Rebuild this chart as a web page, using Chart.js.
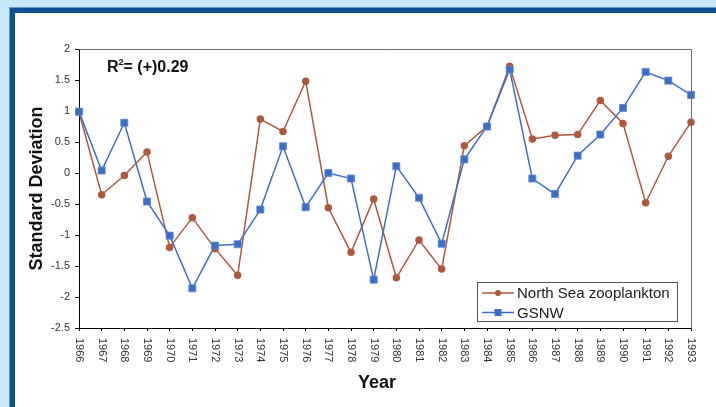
<!DOCTYPE html>
<html>
<head>
<meta charset="utf-8">
<script src="https://cdn.jsdelivr.net/npm/chart.js@4/dist/chart.umd.min.js"></script>
<style>
  html, body { margin: 0; padding: 0; }
  body { width: 716px; height: 407px; background: #c7e8f8; position: relative; overflow: hidden; }
  #frame {
    position: absolute; left: 10px; top: 8px; width: 720px; height: 420px;
    background: #ffffff;
    border-left: 5px solid #0c4f92; border-top: 5px solid #0c4f92;
    box-shadow: -1px -1px 0 #5d9fd3;
  }
  #wrap { position: absolute; left: 0; top: 0; width: 716px; height: 407px; }
</style>
</head>
<body>
<div id="frame"></div>
<div id="wrap"><canvas id="chart" width="716" height="407"></canvas></div>
<script>
// Years on the horizontal axis
const years = ['1966','1967','1968','1969','1970','1971','1972','1973','1974','1975',
  '1976','1977','1978','1979','1980','1981','1982','1983','1984','1985',
  '1986','1987','1988','1989','1990','1991','1992','1993'];

// Standardised anomalies (standard deviations)
const northSeaZooplankton = [0.98, -0.35, -0.04, 0.34, -1.20, -0.72, -1.22, -1.65, 0.87, 0.67,
  1.48, -0.56, -1.28, -0.42, -1.69, -1.08, -1.55, 0.44, 0.75, 1.72,
  0.55, 0.61, 0.62, 1.17, 0.80, -0.48, 0.27, 0.82];
const gsnw = [0.99, 0.04, 0.81, -0.46, -1.01, -1.86, -1.17, -1.15, -0.59, 0.43,
  -0.55, 0.00, -0.09, -1.72, 0.11, -0.40, -1.14, 0.22, 0.75, 1.67,
  -0.09, -0.34, 0.28, 0.62, 1.05, 1.63, 1.49, 1.26];

// Value-axis tick labels
const yTickLabels = ['-2.5', '-2', '-1.5', '-1', '-0.5', '0', '0.5', '1', '1.5', '2'];

const seriesNames = ['North Sea zooplankton', 'GSNW'];
const correlationText = { base: 'R', sup: '2', rest: '= (+)0.29' };
const xTitle = 'Year';

const FONT = '"Liberation Sans", Arial, Helvetica, sans-serif';
const BROWN = '#ae583d';
const BLUE = '#3d6ec6';

Chart.defaults.font.family = FONT;

// Draws the plot frame, rotated year labels, x title, R² note and the inset legend
const decorations = {
  id: 'decorations',
  afterDraw(chart) {
    const ctx = chart.ctx;
    const a = chart.chartArea;
    const xs = chart.scales.x;
    ctx.save();

    // plot frame (top and right edges)
    ctx.strokeStyle = '#6b6b6b';
    ctx.lineWidth = 1;
    ctx.beginPath();
    ctx.moveTo(Math.round(a.left) + 0.5, Math.round(a.top) + 0.5);
    ctx.lineTo(Math.round(a.right) + 0.5, Math.round(a.top) + 0.5);
    ctx.lineTo(Math.round(a.right) + 0.5, Math.round(a.bottom) + 0.5);
    ctx.stroke();

    // year labels, reading downward
    ctx.fillStyle = '#333333';
    ctx.font = '11px ' + FONT;
    ctx.textAlign = 'left';
    ctx.textBaseline = 'middle';
    xs.ticks.forEach((t, i) => {
      const x = xs.getPixelForTick(i);
      ctx.save();
      ctx.translate(x, a.bottom + 10);
      ctx.rotate(Math.PI / 2);
      ctx.fillText(xs.getLabelForValue(t.value), 0, 0);
      ctx.restore();
    });

    // x title
    ctx.fillStyle = '#111111';
    ctx.font = 'bold 18px ' + FONT;
    ctx.textAlign = 'center';
    ctx.fillText(xTitle, 377, 383);

    // R² note
    ctx.textAlign = 'left';
    ctx.font = 'bold 16px ' + FONT;
    let x0 = 107;
    const y0 = 68;
    ctx.fillText(correlationText.base, x0, y0);
    x0 += ctx.measureText(correlationText.base).width;
    ctx.font = 'bold 9px ' + FONT;
    ctx.fillText(correlationText.sup, x0, y0 - 5);
    x0 += ctx.measureText(correlationText.sup).width;
    ctx.font = 'bold 16px ' + FONT;
    ctx.fillText(correlationText.rest, x0, y0);

    // inset legend
    const lx = 477.5, ly = 282.5, lw = 200, lh = 39;
    ctx.fillStyle = '#ffffff';
    ctx.fillRect(lx, ly, lw, lh);
    ctx.strokeStyle = '#555555';
    ctx.strokeRect(lx, ly, lw, lh);
    ctx.font = '15px ' + FONT;
    chart.data.datasets.forEach((ds, i) => {
      const yy = 293 + i * 19.5;
      ctx.strokeStyle = ds.borderColor;
      ctx.lineWidth = 1.5;
      ctx.beginPath();
      ctx.moveTo(482, yy);
      ctx.lineTo(514, yy);
      ctx.stroke();
      ctx.fillStyle = ds.pointBackgroundColor;
      if (ds.pointStyle === 'rect') {
        const s = ds.pointRadius * Math.SQRT2;
        ctx.fillRect(498 - s / 2, yy - s / 2, s, s);
      } else {
        ctx.beginPath();
        ctx.arc(498, yy, ds.pointRadius, 0, Math.PI * 2);
        ctx.fill();
      }
      ctx.fillStyle = '#1a1a1a';
      ctx.textAlign = 'left';
      ctx.fillText(ds.label, 517, yy + 1);
    });

    ctx.restore();
  }
};

new Chart(document.getElementById('chart'), {
  type: 'line',
  data: {
    labels: years,
    datasets: [
      {
        label: seriesNames[0],
        data: northSeaZooplankton,
        borderColor: BROWN,
        backgroundColor: BROWN,
        pointBackgroundColor: BROWN,
        pointBorderColor: BROWN,
        pointStyle: 'circle',
        pointRadius: 3,
        borderWidth: 1.5,
        tension: 0,
        order: 1
      },
      {
        label: seriesNames[1],
        data: gsnw,
        borderColor: BLUE,
        backgroundColor: BLUE,
        pointBackgroundColor: BLUE,
        pointBorderColor: '#5f8ad6',
        pointBorderWidth: 0.8,
        pointStyle: 'rect',
        pointRadius: 5,
        borderWidth: 1.5,
        tension: 0,
        order: 0
      }
    ]
  },
  options: {
    responsive: false,
    animation: false,
    devicePixelRatio: 1,
    layout: { padding: { top: 49, right: 25, left: 0, bottom: 0 } },
    plugins: { legend: { display: false }, tooltip: { enabled: false } },
    scales: {
      x: {
        type: 'category',
        offset: false,
        grid: { display: true, drawOnChartArea: false, drawTicks: true, tickLength: 3, color: '#000000' },
        border: { display: true, color: '#000000', width: 1 },
        ticks: { color: 'rgba(0,0,0,0)', autoSkip: false, maxRotation: 90, minRotation: 90, font: { size: 11 } },
        afterFit(s) { s.height = 79; }
      },
      y: {
        min: -2.5,
        max: 2,
        grid: { display: true, drawOnChartArea: false, drawTicks: true, tickLength: 4, color: '#000000' },
        border: { display: true, color: '#000000', width: 1 },
        ticks: {
          stepSize: 0.5,
          padding: 5,
          color: '#333333',
          font: { size: 11 },
          callback: (v) => {
            const lbl = yTickLabels.find(t => Math.abs(parseFloat(t) - v) < 1e-6);
            return lbl === undefined ? '' : lbl;
          }
        },
        title: {
          display: true,
          text: 'Standard Deviation',
          color: '#111111',
          font: { size: 18, weight: 'bold' },
          padding: { top: 26, bottom: 0 }
        },
        afterFit(s) { s.width = 79; }
      }
    }
  },
  plugins: [decorations]
});
</script>
</body>
</html>
